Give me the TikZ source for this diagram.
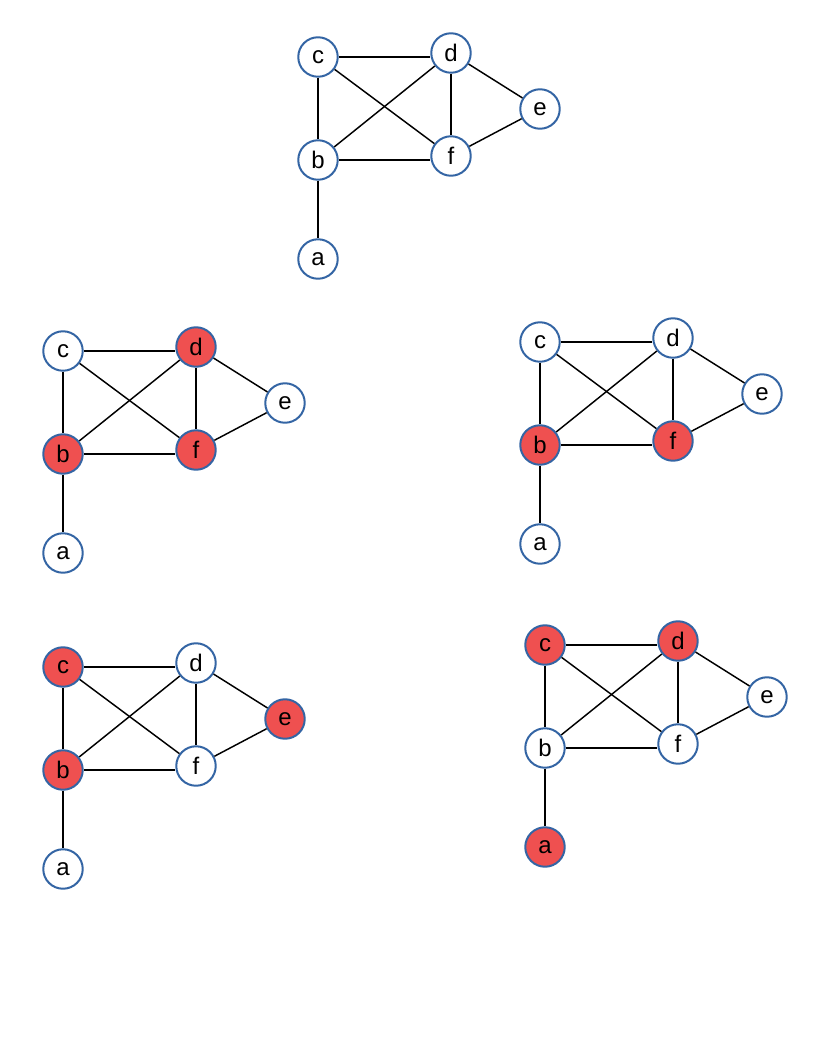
\documentclass[tikz,border=0pt]{standalone}
\usepackage{fontspec}
\setmainfont{Liberation Sans}
\usetikzlibrary{positioning}
\definecolor{rim}{HTML}{3465A4}
\definecolor{hit}{HTML}{EF5050}

\tikzset{
  vtx/.style={circle,draw=rim,line width=1.5pt,fill=white,minimum size=29.6pt,
    inner sep=0pt,font=\fontsize{18}{20}\selectfont},
  red/.style={vtx,fill=hit},
  edge/.style={black,line width=1.1pt}
}

\begin{document}
\begin{tikzpicture}[x=0.75pt,y=-0.75pt]
  \useasboundingbox (0,0) rectangle (816,1056);

  % top graph, no colouring
  \begin{scope}[shift={(318,57)}]
    \node[vtx] (pc) at (0,0) {c};
    \node[vtx] (pd) at (133,-4) {d};
    \node[vtx] (pe) at (222,52) {e};
    \node[vtx] (pb) at (0,103) {b};
    \node[vtx] (pf) at (133,99) {f};
    \node[vtx] (pa) at (0,202) {a};
    \draw[edge] (pc.east) -- (pc.east -| pd.west);
    \draw[edge] (pb.east) -- (pb.east -| pf.west);
    \foreach \u/\v in {c/b,c/f,d/b,d/f,d/e,e/f,b/a}
      \draw[edge] (p\u) -- (p\v);
  \end{scope}

  % middle left: b, d, f
  \begin{scope}[shift={(63,351)}]
    \node[vtx] (qc) at (0,0) {c};
    \node[red] (qd) at (133,-4) {d};
    \node[vtx] (qe) at (222,52) {e};
    \node[red] (qb) at (0,103) {b};
    \node[red] (qf) at (133,99) {f};
    \node[vtx] (qa) at (0,202) {a};
    \draw[edge] (qc.east) -- (qc.east -| qd.west);
    \draw[edge] (qb.east) -- (qb.east -| qf.west);
    \foreach \u/\v in {c/b,c/f,d/b,d/f,d/e,e/f,b/a}
      \draw[edge] (q\u) -- (q\v);
  \end{scope}

  % middle right: b, f
  \begin{scope}[shift={(540,342)}]
    \node[vtx] (rc) at (0,0) {c};
    \node[vtx] (rd) at (133,-4) {d};
    \node[vtx] (re) at (222,52) {e};
    \node[red] (rb) at (0,103) {b};
    \node[red] (rf) at (133,99) {f};
    \node[vtx] (ra) at (0,202) {a};
    \draw[edge] (rc.east) -- (rc.east -| rd.west);
    \draw[edge] (rb.east) -- (rb.east -| rf.west);
    \foreach \u/\v in {c/b,c/f,d/b,d/f,d/e,e/f,b/a}
      \draw[edge] (r\u) -- (r\v);
  \end{scope}

  % bottom left: c, b, e
  \begin{scope}[shift={(63,667)}]
    \node[red] (sc) at (0,0) {c};
    \node[vtx] (sd) at (133,-4) {d};
    \node[red] (se) at (222,52) {e};
    \node[red] (sb) at (0,103) {b};
    \node[vtx] (sf) at (133,99) {f};
    \node[vtx] (sa) at (0,202) {a};
    \draw[edge] (sc.east) -- (sc.east -| sd.west);
    \draw[edge] (sb.east) -- (sb.east -| sf.west);
    \foreach \u/\v in {c/b,c/f,d/b,d/f,d/e,e/f,b/a}
      \draw[edge] (s\u) -- (s\v);
  \end{scope}

  % bottom right: c, d, a
  \begin{scope}[shift={(545,645)}]
    \node[red] (tc) at (0,0) {c};
    \node[red] (td) at (133,-4) {d};
    \node[vtx] (te) at (222,52) {e};
    \node[vtx] (tb) at (0,103) {b};
    \node[vtx] (tf) at (133,99) {f};
    \node[red] (ta) at (0,202) {a};
    \draw[edge] (tc.east) -- (tc.east -| td.west);
    \draw[edge] (tb.east) -- (tb.east -| tf.west);
    \foreach \u/\v in {c/b,c/f,d/b,d/f,d/e,e/f,b/a}
      \draw[edge] (t\u) -- (t\v);
  \end{scope}
\end{tikzpicture}
\end{document}
